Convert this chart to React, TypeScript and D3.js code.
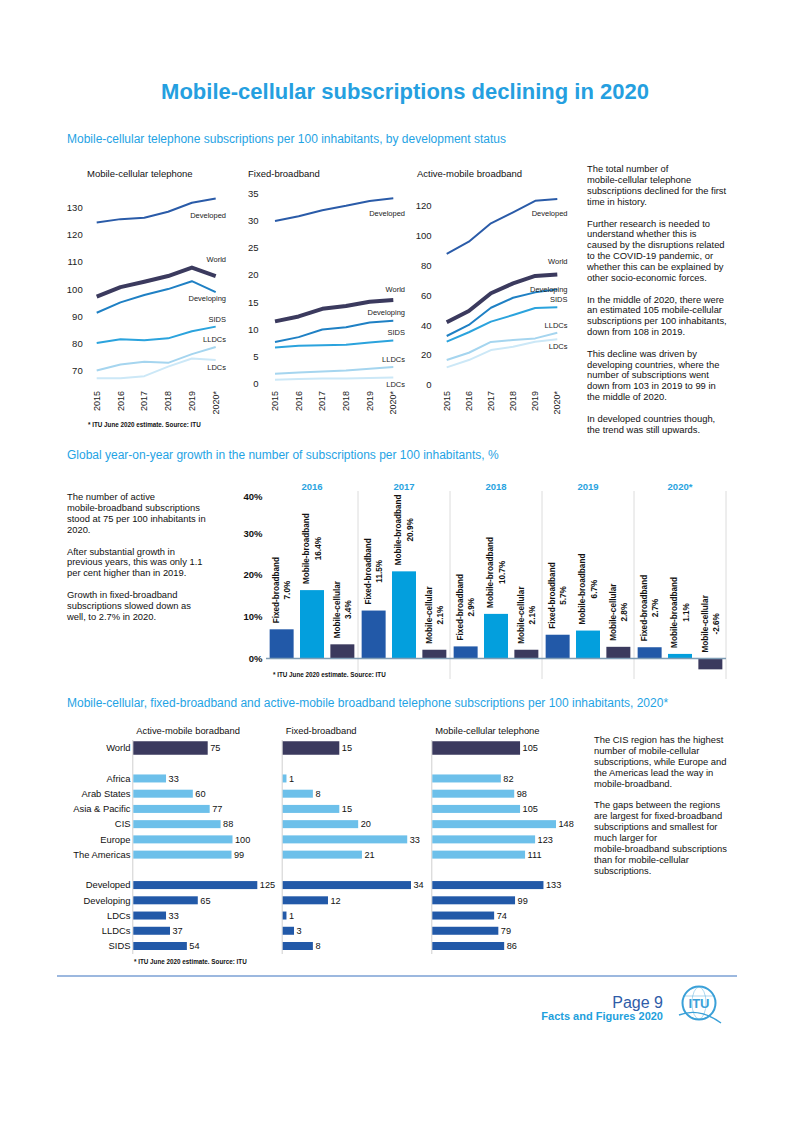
import {useEffect, useRef} from "react"
import * as d3 from "d3"

const FONT = "'Liberation Sans', Arial, Helvetica, sans-serif"
const HEAD = "#1fa3e4"

// top: three line charts by development status
const years = ["2015", "2016", "2017", "2018", "2019", "2020*"]
const statusGroups = ["Developed", "World", "Developing", "SIDS", "LLDCs", "LDCs"]

const cellularLines = [
  [124.6, 125.8, 126.3, 128.5, 131.8, 133.4],
  [97.3, 100.8, 102.8, 104.9, 108, 104.9],
  [91.4, 95.2, 97.9, 100.1, 103, 99],
  [80.3, 81.7, 81.3, 82, 84.6, 86.3],
  [70.2, 72.4, 73.4, 73, 76.2, 78.8],
  [67.3, 67.3, 68.1, 71.6, 74.6, 74],
]
const fixedLines = [
  [29.9, 30.8, 31.9, 32.7, 33.6, 34.1],
  [11.5, 12.4, 13.8, 14.3, 15.1, 15.4],
  [7.7, 8.6, 10.0, 10.4, 11.3, 11.6],
  [6.7, 7.0, 7.1, 7.2, 7.6, 8.0],
  [1.9, 2.1, 2.3, 2.5, 2.8, 3.1],
  [0.8, 0.9, 1.0, 1.0, 1.1, 1.2],
]
const mobileLines = [
  [87.7, 95.9, 108.2, 115.6, 123.3, 124.5],
  [42, 49.5, 61.4, 68, 73, 74],
  [32.8, 40.2, 51.7, 58.4, 62, 64],
  [29, 35.3, 42.4, 46.8, 51.5, 52],
  [16.7, 21.6, 28.8, 30.1, 31.2, 35],
  [11.8, 16.7, 23.4, 25.6, 29, 30.6],
]
const cellularTicks = [70, 80, 90, 100, 110, 120, 130]
const fixedTicks = [0, 5, 10, 15, 20, 25, 30, 35]
const mobileTicks = [0, 20, 40, 60, 80, 100, 120]

// middle: year-on-year growth
const growthYears = ["2016", "2017", "2018", "2019", "2020*"]
const growthSeries = ["Fixed-broadband", "Mobile-broadband", "Mobile-cellular"]
const fixedGrowth = [7.0, 11.5, 2.9, 5.7, 2.7]
const mobileGrowth = [16.4, 20.9, 10.7, 6.7, 1.1]
const cellularGrowth = [3.4, 2.1, 2.1, 2.8, -2.6]
const growthTicks = [0, 10, 20, 30, 40]

// bottom: 2020 by region
const regions = ["World", "Africa", "Arab States", "Asia & Pacific", "CIS", "Europe", "The Americas", "Developed", "Developing", "LDCs", "LLDCs", "SIDS"]
const regionKind = ["world", "region", "region", "region", "region", "region", "region", "dev", "dev", "dev", "dev", "dev"]
const rowOrder = ["World", "gap1", "Africa", "Arab States", "Asia & Pacific", "CIS", "Europe", "The Americas", "gap2", "Developed", "Developing", "LDCs", "LLDCs", "SIDS"]
const mobile2020 = [75, 33, 60, 77, 88, 100, 99, 125, 65, 33, 37, 54]
const fixed2020 = [15, 1, 8, 15, 20, 33, 21, 34, 12, 1, 3, 8]
const cellular2020 = [105, 82, 98, 105, 148, 123, 111, 133, 99, 74, 79, 86]

const textTop = [
  "The total number of", "mobile-cellular telephone", "subscriptions declined for the first", "time in history.", "",
  "Further research is needed to", "understand whether this is", "caused by the disruptions related", "to the COVID-19 pandemic, or", "whether this can be explained by", "other socio-economic forces.", "",
  "In the middle of 2020, there were", "an estimated 105 mobile-cellular", "subscriptions per 100 inhabitants,", "down from 108 in 2019.", "",
  "This decline was driven by", "developing countries, where the", "number of subscriptions went", "down from 103 in 2019 to 99 in", "the middle of 2020.", "",
  "In developed countries though,", "the trend was still upwards.",
]
const textMiddle = [
  "The number of active", "mobile-broadband subscriptions", "stood at 75 per 100 inhabitants in", "2020.", "",
  "After substantial growth in", "previous years, this was only 1.1", "per cent higher than in 2019.", "",
  "Growth in fixed-broadband", "subscriptions slowed down as", "well, to 2.7% in 2020.",
]
const textBottom = [
  "The CIS region has the highest", "number of mobile-cellular", "subscriptions, while Europe and", "the Americas lead the way in", "mobile-broadband.", "",
  "The gaps between the regions", "are largest for fixed-broadband", "subscriptions and smallest for", "much larger for", "mobile-broadband subscriptions", "than for mobile-cellular", "subscriptions.",
]

const lineColor: Record<string, string> = {
  Developed: "#2a5ba8",
  World: "#3b3a5e",
  Developing: "#1f80c4",
  SIDS: "#2ba3dd",
  LLDCs: "#a5d5ef",
  LDCs: "#cce8f7",
}
const barColor = {"Fixed-broadband": "#2259a8", "Mobile-broadband": "#039fdd", "Mobile-cellular": "#3b3a5e"}
const kindColor = {world: "#3b3a5e", region: "#6dc0ea", dev: "#2259a8"}

function Paragraphs(props: {x: number; y: number; lines: string[]}) {
  return (
    <text x={props.x} y={props.y} fontSize={9.4} fill="#111">
      {props.lines.map((l, i) => (
        <tspan key={i} x={props.x} y={props.y + i * 10.85}>
          {l}
        </tspan>
      ))}
    </text>
  )
}

function LineChart(props: {
  title: string
  titleX: number
  data: number[][]
  ticks: number[]
  xRange: [number, number]
  yDomain: [number, number]
  yRange: [number, number]
  tickX: number
  labelDy: number[]
  labelX: number
}) {
  const x = d3.scalePoint().domain(years).range(props.xRange)
  const y = d3.scaleLinear().domain(props.yDomain).range(props.yRange)
  const line = d3
    .line<number>()
    .x((_, i) => x(years[i])!)
    .y((d) => y(d))
  const order = [5, 4, 3, 2, 0, 1]
  return (
    <g>
      <text x={props.titleX} y={177} fontSize={9.5} fill="#111">
        {props.title}
      </text>
      {props.ticks.map((t) => (
        <text key={t} x={props.tickX} y={y(t)} dy="0.35em" textAnchor="end" fontSize={9.5} fill="#222">
          {t}
        </text>
      ))}
      {order.map((gi) => (
        <path
          key={gi}
          d={line(props.data[gi])!}
          fill="none"
          stroke={lineColor[statusGroups[gi]]}
          strokeWidth={statusGroups[gi] === "World" ? 4 : 2}
          strokeLinejoin="round"
        />
      ))}
      {statusGroups.map((g, gi) => (
        <text
          key={g}
          x={props.labelX}
          y={y(props.data[gi][5]) + props.labelDy[gi]}
          dy="0.35em"
          textAnchor="end"
          fontSize={7.5}
          fill="#222"
        >
          {g}
        </text>
      ))}
      {years.map((yr) => (
        <text
          key={yr}
          transform={`translate(${x(yr)},391) rotate(-90)`}
          dy="0.35em"
          textAnchor="end"
          fontSize={9}
          fill="#222"
        >
          {yr}
        </text>
      ))}
    </g>
  )
}

function Footnote(props: {x: number; y: number}) {
  return (
    <text x={props.x} y={props.y} fontSize={6.3} fontWeight="bold" fill="#111">
      * ITU June 2020 estimate. Source: ITU
    </text>
  )
}

function RegionBars(props: {title: string; values: number[]; domainMax: number; x0: number; x1: number; showNames?: boolean}) {
  const y = d3.scalePoint().domain(rowOrder).range([748, 946])
  const x = d3.scaleLinear().domain([0, props.domainMax]).range([props.x0, props.x1])
  return (
    <g>
      <text x={props.x0 + 3} y={734} fontSize={9.4} fill="#111">
        {props.title}
      </text>
      <line x1={props.x0 - 0.5} x2={props.x0 - 0.5} y1={740} y2={954} stroke="#cfcfcf" strokeWidth={1} />
      {regions.map((r, i) => {
        const h = regionKind[i] === "world" ? 13.5 : 8
        const cy = y(r)!
        return (
          <g key={r}>
            <rect x={x(0)} y={cy - h / 2} width={x(props.values[i]) - x(0)} height={h} fill={kindColor[regionKind[i]]} />
            <text x={x(props.values[i]) + 2.5} y={cy} dy="0.35em" fontSize={9.2} fill="#111">
              {props.values[i]}
            </text>
            {props.showNames && (
              <text x={130.5} y={cy} dy="0.35em" textAnchor="end" fontSize={9.4} fill="#111">
                {r}
              </text>
            )}
          </g>
        )
      })}
    </g>
  )
}

function GrowthChart() {
  const xg = d3.scaleBand().domain(growthYears).range([266, 726])
  const xi = d3.scaleBand().domain(growthSeries).range([0, xg.bandwidth()]).paddingInner(0.21).paddingOuter(0.12)
  const y = d3.scaleLinear().domain([0, 40]).range([658.5, 491.7])
  const series = [fixedGrowth, mobileGrowth, cellularGrowth]
  const labelRef = useRef<SVGGElement>(null)

  useEffect(() => {
    const g = d3.select(labelRef.current)
    g.selectAll("*").remove()
    growthYears.forEach((yr, gi) => {
      growthSeries.forEach((s, si) => {
        const v = series[si][gi]
        const cx = xg(yr)! + xi(s)! + xi.bandwidth() / 2
        const base = Math.min(y(0), y(v)) - 6
        const lg = g.append("g").attr("transform", `translate(${cx},${base}) rotate(-90)`)
        const t1 = lg
          .append("text")
          .attr("y", -2.7)
          .attr("font-size", 8.2)
          .attr("font-weight", "bold")
          .attr("fill", "#111")
          .text(s)
        const len = (t1.node() as SVGTextElement).getComputedTextLength()
        t1.attr("x", len / 2).attr("text-anchor", "middle")
        lg.append("text")
          .attr("x", len / 2)
          .attr("y", 8.7)
          .attr("text-anchor", "middle")
          .attr("font-size", 8.2)
          .attr("font-weight", "bold")
          .attr("fill", "#111")
          .text(v.toFixed(1) + "%")
      })
    })
  }, [])

  return (
    <g>
      {growthYears.map((yr) => (
        <g key={yr}>
          <line x1={xg(yr)! + xg.bandwidth()} x2={xg(yr)! + xg.bandwidth()} y1={491} y2={679} stroke="#dcdcdc" strokeWidth={1} />
          <text x={xg(yr)! + xg.bandwidth() / 2} y={490} textAnchor="middle" fontSize={9.5} fontWeight="bold" fill="#29a3e0">
            {yr}
          </text>
        </g>
      ))}
      {growthTicks.map((t) => (
        <text key={t} x={262.5} y={Math.max(y(t), 497)} dy="0.35em" textAnchor="end" fontSize={9.5} fontWeight="bold" fill="#111">
          {t}%
        </text>
      ))}
      {growthYears.map((yr, gi) =>
        growthSeries.map((s, si) => {
          const v = series[si][gi]
          return (
            <rect
              key={yr + s}
              x={xg(yr)! + xi(s)!}
              width={xi.bandwidth()}
              y={Math.min(y(0), y(v))}
              height={Math.abs(y(v) - y(0))}
              fill={barColor[s]}
            />
          )
        })
      )}
      <line x1={266} x2={726} y1={y(0)} y2={y(0)} stroke="#7f9db5" strokeWidth={1.5} />
      <g ref={labelRef} />
      <Footnote x={273} y={677} />
    </g>
  )
}

function Logo() {
  return (
    <g transform="translate(699,1003)" fill="none" stroke="#3aa0d8">
      <circle r={16.5} strokeWidth={2} />
      <ellipse rx={7} ry={16} strokeWidth={0.6} opacity={0.7} />
      <line x1={-16} x2={16} y1={-7} y2={-7} strokeWidth={0.6} opacity={0.7} />
      <path d="M-20,12 Q0,4 22,20" strokeWidth={1.4} />
      <text y={4.5} textAnchor="middle" fontSize={13} fontWeight="bold" fill="#3aa0d8" stroke="#fff" strokeWidth={0.6} paintOrder="stroke">
        ITU
      </text>
    </g>
  )
}

export default function App() {
  return (
    <svg
      width={793}
      height={1122}
      viewBox="0 0 793 1122"
      style={{position: "absolute", left: 0, top: 0, background: "#fff"}}
      fontFamily={FONT}
    >
      <text x={405} y={99} textAnchor="middle" fontSize={22} fontWeight="bold" fill="#259fe0">
        Mobile-cellular subscriptions declining in 2020
      </text>
      <text x={67} y={143} fontSize={12} fill={HEAD}>
        Mobile-cellular telephone subscriptions per 100 inhabitants, by development status
      </text>

      <LineChart
        title="Mobile-cellular telephone"
        titleX={87}
        data={cellularLines}
        ticks={cellularTicks}
        xRange={[96.7, 215.7]}
        yDomain={[70, 130]}
        yRange={[371, 207.7]}
        tickX={82.7}
        labelDy={[17, -17, 6, -7, -8, 7]}
        labelX={226}
      />
      <LineChart
        title="Fixed-broadband"
        titleX={248}
        data={fixedLines}
        ticks={fixedTicks}
        xRange={[275, 393.3]}
        yDomain={[0, 35]}
        yRange={[384, 193.3]}
        tickX={258.5}
        labelDy={[15, -11, -8, -8, -8, 7]}
        labelX={405}
      />
      <LineChart
        title="Active-mobile broadband"
        titleX={417}
        data={mobileLines}
        ticks={mobileTicks}
        xRange={[446.7, 557.3]}
        yDomain={[0, 120]}
        yRange={[385, 205.7]}
        tickX={431.5}
        labelDy={[14, -13, 0, -8, -7, 7]}
        labelX={567.5}
      />
      <Footnote x={88} y={427} />
      <Paragraphs x={587} y={172.3} lines={textTop} />

      <text x={67} y={459} fontSize={12} fill={HEAD}>
        Global year-on-year growth in the number of subscriptions per 100 inhabitants, %
      </text>
      <Paragraphs x={67} y={500.3} lines={textMiddle} />
      <GrowthChart />

      <text x={67} y={707} fontSize={12} fill={HEAD}>
        Mobile-cellular, fixed-broadband and active-mobile broadband telephone subscriptions per 100 inhabitants, 2020*
      </text>
      <RegionBars title="Active-mobile boradband" values={mobile2020} domainMax={125} x0={133.3} x1={257.3} showNames />
      <RegionBars title="Fixed-broadband" values={fixed2020} domainMax={34} x0={282.7} x1={411} />
      <RegionBars title="Mobile-cellular telephone" values={cellular2020} domainMax={148} x0={432.3} x1={556} />
      <Footnote x={134} y={964} />
      <Paragraphs x={594} y={743.3} lines={textBottom} />

      <line x1={57} x2={737} y1={976} y2={976} stroke="#3a73c0" strokeWidth={1.2} />
      <text x={663} y={1007.5} textAnchor="end" fontSize={16} fill="#2e5ca8">
        Page 9
      </text>
      <text x={663} y={1019.6} textAnchor="end" fontSize={11} fontWeight="bold" fill="#1ea0dc">
        Facts and Figures 2020
      </text>
      <Logo />
    </svg>
  )
}
